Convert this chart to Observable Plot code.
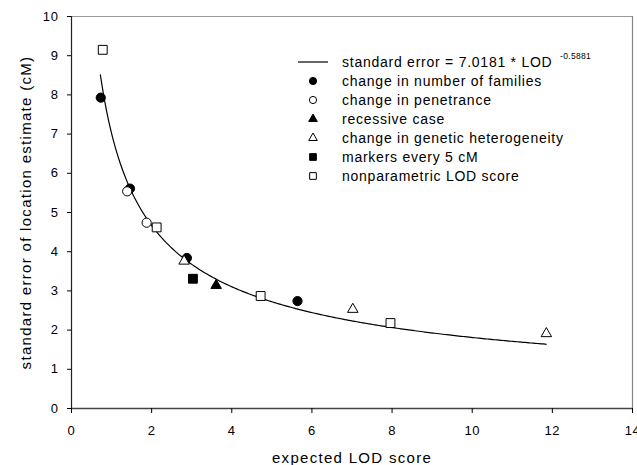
<!DOCTYPE html>
<html>
<head>
<meta charset="utf-8">
<script src="https://cdn.jsdelivr.net/npm/d3@7"></script>
<script src="https://cdn.jsdelivr.net/npm/@observablehq/plot@0.6"></script>
<style>
  html, body { margin: 0; padding: 0; background: white; }
  #chart { width: 637px; height: 465px; }
  .ttl { letter-spacing: 1.3px; }
  .ticks text { letter-spacing: 0.6px; }
</style>
</head>
<body>
<div id="chart"></div>
<script>
// ---- data ----
const seriesNames = [
  "change in number of families",
  "change in penetrance",
  "recessive case",
  "change in genetic heterogeneity",
  "markers every 5 cM",
  "nonparametric LOD score"
];
const familiesX = [0.73, 1.46, 2.88, 5.64];
const familiesY = [7.93, 5.61, 3.84, 2.74];
const penetranceX = [1.39, 1.875];
const penetranceY = [5.54, 4.74];
const recessiveX = [3.61];
const recessiveY = [3.14];
const heterogeneityX = [2.81, 7.02, 11.85];
const heterogeneityY = [3.76, 2.53, 1.91];
const markersX = [3.03];
const markersY = [3.31];
const nonparamX = [0.78, 2.125, 4.72, 7.96];
const nonparamY = [9.15, 4.62, 2.87, 2.18];

// fitted curve: standard error = 7.0181 * LOD^-0.5881, drawn over the fitted range
const fitA = 7.0181;
const fitB = -0.5881;
const fitXStart = 0.72;
const fitXEnd = 11.85;

const xTicks = [0, 2, 4, 6, 8, 10, 12, 14];
const yTicks = [0, 1, 2, 3, 4, 5, 6, 7, 8, 9, 10];
const xTitle = "expected LOD score";
const yTitle = "standard error of location estimate (cM)";
const fitLabel = "standard error = 7.0181 * LOD ";
const fitExp = "-0.5881";

// ---- build tables ----
const symbols = ["circle", "circle", "triangle", "triangle", "square", "square"];
const filled = [true, false, true, false, true, false];
const xs = [familiesX, penetranceX, recessiveX, heterogeneityX, markersX, nonparamX];
const ys = [familiesY, penetranceY, recessiveY, heterogeneityY, markersY, nonparamY];
const points = [];
xs.forEach((arr, s) => arr.forEach((x, i) => points.push({x, y: ys[s][i], s})));

const curve = d3.range(fitXStart, fitXEnd + 1e-9, 0.05).concat([fitXEnd])
  .map(x => ({x, y: fitA * Math.pow(x, fitB)}));

const rBySym = {circle: 4.6, triangle: 3.9, square: 5};
const dotMarks = seriesNames.map((name, s) => Plot.dot(points.filter(p => p.s === s), {
  x: "x", y: "y",
  symbol: () => symbols[s],
  r: rBySym[symbols[s]],
  fill: filled[s] ? "black" : "white",
  stroke: "black",
  strokeWidth: 1
}));

const plot = Plot.plot({
  width: 637,
  height: 465,
  marginLeft: 71,
  marginRight: 5,
  marginTop: 16,
  marginBottom: 57,
  style: {fontFamily: "'Liberation Sans', Arial, sans-serif", fontSize: "13px", color: "black", background: "white", overflow: "visible"},
  x: {domain: [0, 14]},
  y: {domain: [0, 10]},
  marks: [
    Plot.ruleY([10], {stroke: "#999", strokeWidth: 1.2}),
    Plot.ruleX([14], {stroke: "#888", strokeWidth: 1.2}),
    Plot.ruleX([0], {stroke: "#222", strokeWidth: 1.2}),
    Plot.ruleY([0], {stroke: "#444", strokeWidth: 1.5}),
    Plot.axisX({ticks: xTicks, tickSize: 5, tickPadding: 12, label: null, tickFormat: d => String(d), className: "ticks"}),
    Plot.axisY({ticks: yTicks, tickSize: 4, tickPadding: 9, label: null, tickFormat: d => String(d), className: "ticks"}),
    Plot.line(curve, {x: "x", y: "y", stroke: "black", strokeWidth: 1.2, curve: "linear"}),
    ...dotMarks,
    Plot.text([xTitle], {frameAnchor: "bottom", dy: 50, fontSize: 15, lineAnchor: "middle", textAnchor: "middle", className: "ttl"}),
    Plot.text([yTitle], {frameAnchor: "left", dx: -45, rotate: -90, fontSize: 15, lineAnchor: "middle", textAnchor: "middle", className: "ttl"})
  ]
});
document.getElementById("chart").appendChild(plot);

// ---- legend (inside plot area, top-right) ----
const svg = d3.select(plot);
const lg = svg.append("g").attr("font-family", "'Liberation Sans', Arial, sans-serif")
  .attr("font-size", 14).attr("text-anchor", "start").attr("letter-spacing", "0.75px");
const row0 = 62, rowStep = 19, markX = 313, textX = 342;
lg.append("line").attr("x1", 298).attr("x2", 328).attr("y1", row0).attr("y2", row0)
  .attr("stroke", "black").attr("stroke-width", 1.2);
const t0 = lg.append("text").attr("x", textX).attr("y", row0).attr("dy", "0.35em");
t0.append("tspan").text(fitLabel);
t0.append("tspan").attr("font-size", 8.5).attr("letter-spacing", "0.3px").attr("dy", "-0.9em").attr("dx", 3).text(fitExp);
const symMap = {circle: d3.symbolCircle, triangle: d3.symbolTriangle, square: d3.symbolSquare};
seriesNames.forEach((name, s) => {
  const yy = row0 + rowStep * (s + 1);
  const size = symbols[s] === "circle" ? Math.PI * 3.6 * 3.6 : (symbols[s] === "triangle" ? 32 : 45);
  lg.append("path").attr("d", d3.symbol(symMap[symbols[s]], size)())
    .attr("transform", `translate(${markX},${yy})`)
    .attr("fill", filled[s] ? "black" : "white").attr("stroke", "black").attr("stroke-width", 1);
  lg.append("text").attr("x", textX).attr("y", yy).attr("dy", "0.35em").text(name);
});
</script>
</body>
</html>
